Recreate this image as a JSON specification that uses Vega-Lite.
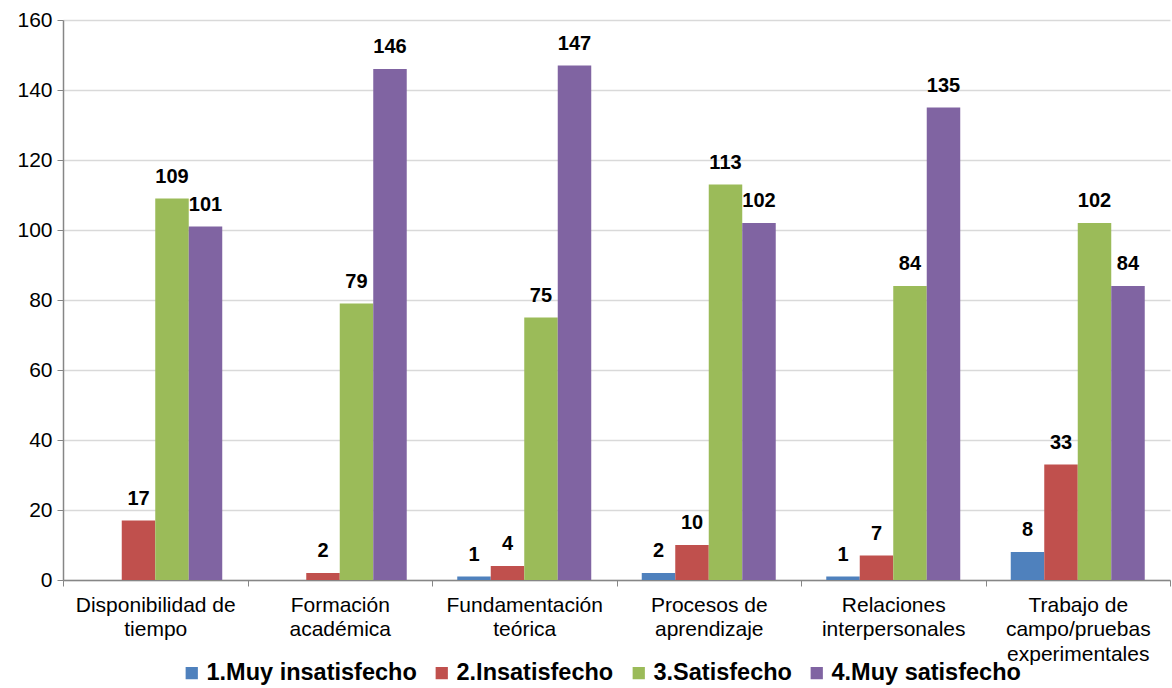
{
  "$schema": "https://vega.github.io/schema/vega-lite/v6.json",
  "width": 1107,
  "height": 560,
  "padding": {"left": 5, "top": 9, "right": 2, "bottom": 0},
  "background": "white",
  "config": {
    "view": {"stroke": null},
    "font": "Liberation Sans",
    "axis": {"labelFont": "Liberation Sans", "labelColor": "#000000"}
  },
  "data": {
    "values": [
      {"cat": "Disponibilidad de|tiempo", "serie": "1.Muy insatisfecho", "v": 0},
      {"cat": "Disponibilidad de|tiempo", "serie": "2.Insatisfecho", "v": 17},
      {"cat": "Disponibilidad de|tiempo", "serie": "3.Satisfecho", "v": 109},
      {"cat": "Disponibilidad de|tiempo", "serie": "4.Muy satisfecho", "v": 101},
      {"cat": "Formación|académica", "serie": "1.Muy insatisfecho", "v": 0},
      {"cat": "Formación|académica", "serie": "2.Insatisfecho", "v": 2},
      {"cat": "Formación|académica", "serie": "3.Satisfecho", "v": 79},
      {"cat": "Formación|académica", "serie": "4.Muy satisfecho", "v": 146},
      {"cat": "Fundamentación|teórica", "serie": "1.Muy insatisfecho", "v": 1},
      {"cat": "Fundamentación|teórica", "serie": "2.Insatisfecho", "v": 4},
      {"cat": "Fundamentación|teórica", "serie": "3.Satisfecho", "v": 75},
      {"cat": "Fundamentación|teórica", "serie": "4.Muy satisfecho", "v": 147},
      {"cat": "Procesos de|aprendizaje", "serie": "1.Muy insatisfecho", "v": 2},
      {"cat": "Procesos de|aprendizaje", "serie": "2.Insatisfecho", "v": 10},
      {"cat": "Procesos de|aprendizaje", "serie": "3.Satisfecho", "v": 113},
      {"cat": "Procesos de|aprendizaje", "serie": "4.Muy satisfecho", "v": 102},
      {"cat": "Relaciones|interpersonales", "serie": "1.Muy insatisfecho", "v": 1},
      {"cat": "Relaciones|interpersonales", "serie": "2.Insatisfecho", "v": 7},
      {"cat": "Relaciones|interpersonales", "serie": "3.Satisfecho", "v": 84},
      {"cat": "Relaciones|interpersonales", "serie": "4.Muy satisfecho", "v": 135},
      {"cat": "Trabajo de|campo/pruebas|experimentales", "serie": "1.Muy insatisfecho", "v": 8},
      {"cat": "Trabajo de|campo/pruebas|experimentales", "serie": "2.Insatisfecho", "v": 33},
      {"cat": "Trabajo de|campo/pruebas|experimentales", "serie": "3.Satisfecho", "v": 102},
      {"cat": "Trabajo de|campo/pruebas|experimentales", "serie": "4.Muy satisfecho", "v": 84}
    ]
  },
  "encoding": {
    "x": {
      "field": "cat",
      "type": "nominal",
      "sort": null,
      "scale": {"paddingInner": 0, "paddingOuter": 0},
      "axis": {
        "title": null,
        "labelAngle": 0,
        "labelExpr": "isString(datum.value) ? split(datum.value, '|') : ''",
        "labelFontSize": 21,
        "labelLineHeight": 24.5,
        "labelPadding": 8,
        "labelBaseline": "top",
        "tickBand": "extent",
        "tickSize": 6,
        "tickColor": "#868686",
        "domainColor": "#868686",
        "domainWidth": 1.5,
        "labelLimit": 300
      }
    },
    "xOffset": {
      "field": "serie",
      "type": "nominal",
      "scale": {"paddingOuter": 0.754, "paddingInner": 0}
    },
    "y": {
      "field": "v",
      "type": "quantitative",
      "scale": {"domain": [0, 160], "nice": false},
      "axis": {
        "title": null,
        "values": [0, 20, 40, 60, 80, 100, 120, 140, 160],
        "labelFontSize": 21,
        "labelPadding": 5,
        "tickSize": 6,
        "tickColor": "#868686",
        "domainColor": "#868686",
        "domainWidth": 1.5,
        "gridColor": "#D9D9D9",
        "gridWidth": 1.5,
        "minExtent": 58,
        "maxExtent": 58
      }
    }
  },
  "layer": [
    {
      "mark": {"type": "bar"},
      "encoding": {
        "color": {
          "field": "serie",
          "type": "nominal",
          "scale": {
            "domain": ["1.Muy insatisfecho", "2.Insatisfecho", "3.Satisfecho", "4.Muy satisfecho"],
            "range": ["#4F81BD", "#C0504D", "#9BBB59", "#8064A2"]
          },
          "legend": {
            "title": null,
            "orient": "none",
            "direction": "horizontal",
            "legendX": 117,
            "legendY": 641,
            "symbolType": "square",
            "symbolSize": 150,
            "symbolStrokeWidth": 0,
            "labelFontSize": 23.5,
            "labelFontWeight": "bold",
            "labelFont": "Liberation Sans",
            "labelColor": "#000000",
            "labelOffset": 3,
            "columnPadding": 13,
            "labelLimit": 400
          }
        }
      }
    },
    {
      "transform": [{"filter": "datum.v > 0"}],
      "mark": {
        "type": "text",
        "baseline": "alphabetic",
        "dy": -16,
        "fontSize": 20,
        "fontWeight": "bold",
        "font": "Liberation Sans",
        "color": "#000000"
      },
      "encoding": {
        "text": {"field": "v", "type": "quantitative"}
      }
    }
  ]
}
